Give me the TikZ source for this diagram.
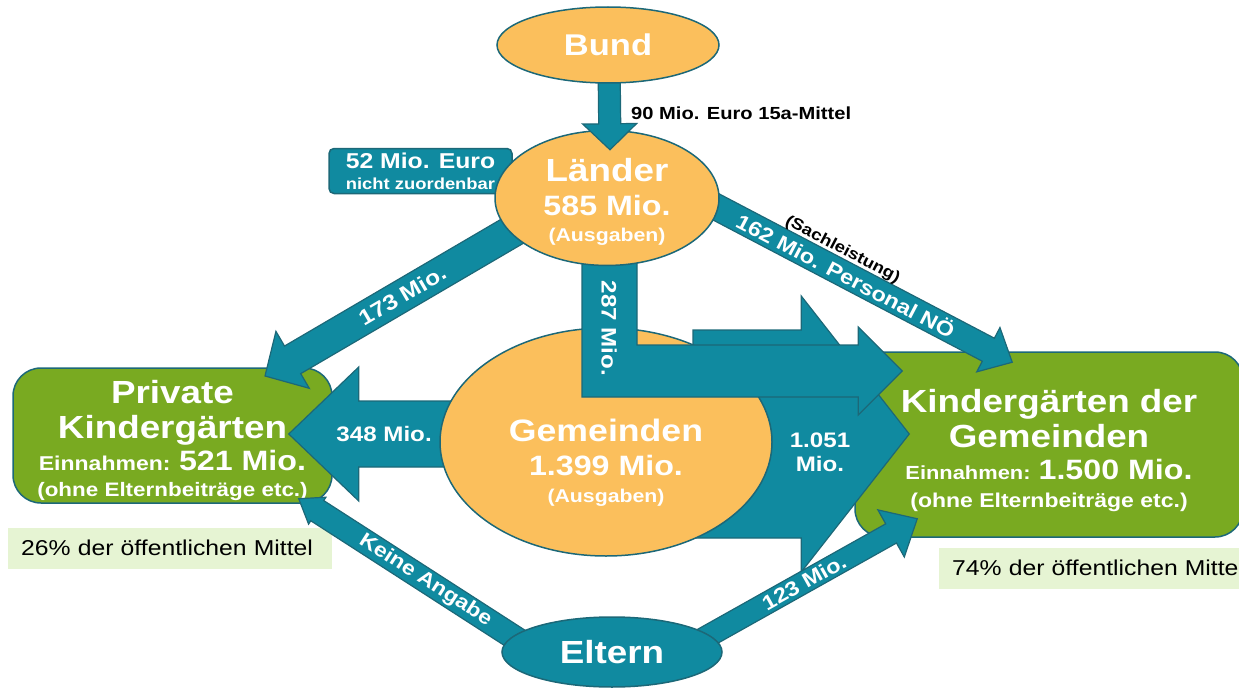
\documentclass[tikz,border=0pt]{standalone}
\usepackage{fontspec}
\setmainfont{Liberation Sans}[FakeStretch=1.15]
\usepackage{xcolor}
\usepackage{tikz}
\usetikzlibrary{shapes.geometric}
\usetikzlibrary{calc,positioning}

\definecolor{flowteal}{RGB}{16,138,160}
\definecolor{flowedge}{RGB}{28,104,120}
\definecolor{budget}{RGB}{251,191,92}
\definecolor{kggreen}{RGB}{121,170,33}
\definecolor{sharebg}{RGB}{230,244,211}

\pgfdeclarelayer{boxes}
\pgfdeclarelayer{under}
\pgfdeclarelayer{over}
\pgfdeclarelayer{topmost}
\pgfsetlayers{boxes,under,main,over,topmost}

\newcommand{\fs}[2]{\fontsize{#1}{#2}\selectfont}

% fat arrow: from, tip, half shaft, half head, head length
\newcommand{\fatarrow}[5]{%
  \coordinate (hb) at ($(#2)!#5!(#1)$);
  \filldraw[flow] ($(#1)!#3!90:(#2)$) -- ($(hb)!#3!90:(#2)$)
    -- ($(hb)!#4!90:(#2)$) -- (#2) -- ($(hb)!#4!-90:(#2)$)
    -- ($(hb)!#3!-90:(#2)$) -- ($(#1)!#3!-90:(#2)$) -- cycle;
}

\begin{document}
\begin{tikzpicture}[x=1pt, y=-1pt,
    flow/.style={fill=flowteal, draw=flowedge, line width=1.2pt},
    bubble/.style={ellipse, fill=budget, draw=flowedge, line width=1.5pt,
      inner sep=0pt, text=white, font=\bfseries, align=center},
    kgbox/.style={rectangle, rounded corners=28pt, fill=kggreen, draw=flowedge,
      line width=1.5pt, inner sep=0pt, text=white, font=\bfseries, align=center},
    share/.style={fill=sharebg, anchor=west, inner xsep=13pt, inner ysep=0pt,
      minimum height=41pt, align=left, font=\fs{21.5}{24}},
    flowtxt/.style={text=white, font=\bfseries, inner sep=0pt, sloped}]

    \useasboundingbox (0,0) rectangle (1239,690);

    % Geldgeber
    \begin{pgfonlayer}{topmost}
      \node[bubble, minimum width=222pt, minimum height=76pt, font={\bfseries\fs{30}{32}}] (bund) at (608,45)
        {Bund};
    \end{pgfonlayer}
    \begin{pgfonlayer}{over}
      \node[bubble, minimum width=224pt, minimum height=122pt, font={\bfseries\fs{32}{34}}] (laender) at (607,198)
        {\rule{0pt}{31.5pt}Länder\\\fs{28}{34}585 Mio.\\[-8pt]\fs{18.5}{26}(Ausgaben)};
      \node[bubble, fill=flowteal, minimum width=220pt, minimum height=70pt, font={\bfseries\fs{32}{34}}] (eltern) at (612,652)
        {Eltern};
    \end{pgfonlayer}
    \node[bubble, minimum width=332pt, minimum height=228pt] (gemeinden) at (606,442) {};
    \node[text=white, font={\bfseries\fs{31}{34}}, align=center, inner sep=0pt] (gemeindentxt) at ($(gemeinden)+(0,21)$)
      {Gemeinden\\\fs{28}{34}1.399 Mio.\\[-7pt]\fs{18.5}{27}(Ausgaben)};

    % Empfaenger
    \begin{pgfonlayer}{boxes}
      \node[kgbox, minimum width=319pt, minimum height=135pt, font={\bfseries\fs{32}{35}}] (private) at (172.5,435.5)
        {\rule{0pt}{32.5pt}Private\\Kindergärten\\[-3pt]\fs{20}{35}Einnahmen: \fs{28}{35}521 Mio.\\[-9pt]\fs{19.5}{26}(ohne Elternbeiträge etc.)};
      \node[kgbox, minimum width=388pt, minimum height=185pt, font={\bfseries\fs{32}{35}}] (kggem) at (1049,444.5)
        {\rule{0pt}{34.5pt}Kindergärten der\\Gemeinden\\[-3pt]\fs{19}{35}Einnahmen: \fs{28}{35}1.500 Mio.\\[-7pt]\fs{20}{28}(ohne Elternbeiträge etc.)};
      \node[kgbox, rounded corners=5pt, fill=flowteal, minimum width=183pt, minimum height=45pt, font={\bfseries\fs{21.5}{21}}] (rest) at (420.5,171)
        {52 Mio. Euro\\\fs{16}{20}nicht zuordenbar};
    \end{pgfonlayer}

    \node[share, text width=298pt] (share26) at (8,548) {26\% der öffentlichen Mittel};
    \node[share, text width=320pt] (share74) at (939,568) {74\% der öffentlichen Mittel};

    % Ende der Pfeile
    \coordinate (s348) at ($(gemeinden)+(-110,-8)$);
    \coordinate (t348) at ($(private.east)+(-44,-1.5)$);
    \coordinate (s1051) at ($(gemeinden)+(87,-8)$);
    \coordinate (t1051) at ($(kggem.west)+(55,-10.5)$);
    \coordinate (s173) at ($(laender)+(-67,17)$);
    \coordinate (t173) at ($(private)+(92.5,-59.5)$);
    \coordinate (s162) at ($(laender)+(73,-10)$);
    \coordinate (t162) at ($(kggem.north west)+(158,11)$);
    \coordinate (s287) at ($(laender.south)+(2,-9)$);
    \coordinate (t287) at ($(kggem.west)+(48,-73.5)$);
    \coordinate (skeine) at ($(eltern)+(-52,15)$);
    \coordinate (tkeine) at ($(private.south east)+(-34,-5)$);
    \coordinate (s123) at ($(eltern)+(48,11)$);
    \coordinate (t123) at ($(kggem.south west)+(63,-19)$);
    \coordinate (sbund) at ($(bund)+(1,15)$);
    \coordinate (tbund) at ($(laender.north)+(3,20)$);

    % Gemeinden
    \begin{pgfonlayer}{under}
      \fatarrow{s1051}{t1051}{104pt}{138pt}{108pt}
      \node[text=white, font={\bfseries\fs{21}{24}}, align=center] (l1051) at ($(gemeinden)+(214,10)$)
        {1.051\\Mio.};
      \fatarrow{s348}{t348}{33pt}{67pt}{70pt}
      \path (s348) -- (t348) node[flowtxt, pos=0.54] (l348) {\fs{21}{22}348 Mio.};
    \end{pgfonlayer}

    % Laender
    \fatarrow{s173}{t173}{16pt}{33pt}{32pt}
    \path (s173) -- (t173) node[flowtxt, pos=0.5] (l173) {\fs{21.5}{22}173 Mio.};
    \fatarrow{s162}{t162}{13pt}{25pt}{27pt}
    \path (s162) -- (t162) node[flowtxt, pos=0.5] (l162) {\fs{20.5}{22}162 Mio. Personal NÖ}
      node[sloped, pos=0.46, above=13pt, inner sep=0pt, font=\bfseries] (sach) {\fs{16}{18}(Sachleistung)};
    \filldraw[flow] ($(s287)+(-27,0)$) -- ($(s287)+(28,0)$) -- ($(s287 |- t287)+(28,-26)$)
      -- ($(t287)+(-44,-26)$) -- ($(t287)+(-44,-44)$) -- (t287) -- ($(t287)+(-44,44)$)
      -- ($(t287)+(-44,26)$) -- ($(s287 |- t287)+(-27,26)$) -- cycle;
    \node[text=white, font=\bfseries, inner sep=0pt, rotate=-90] (l287) at ($(s287)+(0,71)$)
      {\fs{21}{22}287 Mio.};

    % Eltern
    \fatarrow{skeine}{tkeine}{12pt}{16pt}{22pt}
    \path (skeine) -- (tkeine) node[flowtxt, pos=0.515] (lkeine) {\fs{20}{22}Keine Angabe};
    \fatarrow{s123}{t123}{11pt}{27pt}{30pt}
    \path (s123) -- (t123) node[flowtxt, pos=0.56] (l123) {\fs{20.5}{22}123 Mio.};

    % Bund
    \begin{pgfonlayer}{over}
      \fatarrow{sbund}{tbund}{11pt}{27pt}{26pt}
    \end{pgfonlayer}
    \node[anchor=west, inner sep=0pt, font=\bfseries] (l15a) at ($(bund.south)+(23,29)$)
      {\fs{17.5}{20}90 Mio. Euro 15a-Mittel};
\end{tikzpicture}
\end{document}
